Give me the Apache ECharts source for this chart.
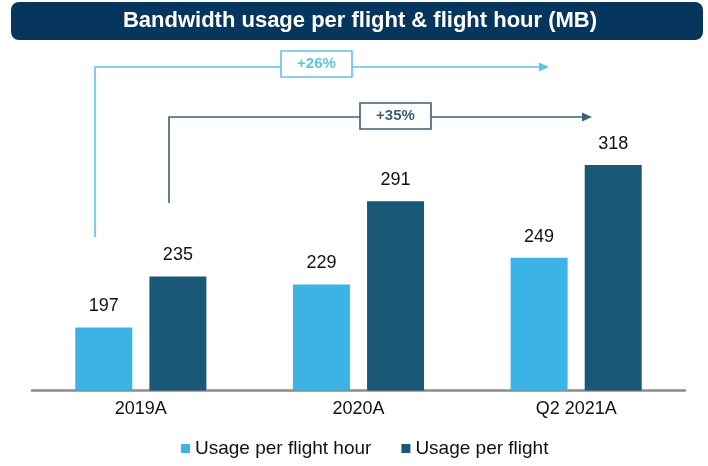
<!DOCTYPE html>
<html>
<head>
<meta charset="utf-8">
<script src="https://cdn.jsdelivr.net/npm/echarts@6/dist/echarts.min.js"></script>
<style>
  html, body { margin: 0; padding: 0; background: #ffffff; }
  #chart { width: 708px; height: 466px; }
</style>
</head>
<body>
<div id="chart"></div>
<script>
// Bandwidth usage per flight and per flight hour, in MB
const categories = ['2019A', '2020A', 'Q2 2021A'];
const perFlightHour = [197, 229, 249];
const perFlight = [235, 291, 318];
const seriesNames = ['Usage per flight hour', 'Usage per flight'];
const growthLabels = ['+26%', '+35%'];
const titleText = 'Bandwidth usage per flight & flight hour (MB)';

const LIGHT = '#3bb3e4';
const DARK = '#1b5878';
const LIGHT_LINE = '#5cc6e0';
const DARK_LINE = '#3e5f78';
const FONT = '"Liberation Sans", Arial, sans-serif';

const chart = echarts.init(document.getElementById('chart'));

// Bracketed growth arrow: vertical stem, horizontal run, a boxed label and an arrowhead
function growthArrow(x0, yStart, yRun, xEnd, box, text, color) {
  return [
    {
      type: 'polyline',
      shape: { points: [[x0, yStart], [x0, yRun], [xEnd - 8, yRun]] },
      style: { stroke: color, lineWidth: 1.6, fill: null },
      z: 10
    },
    {
      type: 'polygon',
      shape: { points: [[xEnd - 10, yRun - 4.5], [xEnd, yRun], [xEnd - 10, yRun + 4.5]] },
      style: { fill: color },
      z: 10
    },
    {
      type: 'rect',
      shape: { x: box[0], y: box[1], width: box[2], height: box[3] },
      style: { fill: '#ffffff', stroke: color, lineWidth: 1.6 },
      z: 11
    },
    {
      type: 'text',
      x: box[0] + box[2] / 2,
      y: box[1] + box[3] / 2,
      style: {
        text: text, fill: color, font: 'bold 15px ' + FONT,
        align: 'center', verticalAlign: 'middle'
      },
      z: 12
    }
  ];
}

const labelStyle = {
  show: true,
  position: 'top',
  distance: 12,
  color: '#111111',
  fontSize: 18,
  fontFamily: FONT
};

chart.setOption({
  animation: false,
  backgroundColor: '#ffffff',
  grid: { left: 32, right: 23, top: 55, bottom: 75.5, containLabel: false },
  legend: {
    data: seriesNames,
    bottom: 3,
    left: 176,
    icon: 'rect',
    itemWidth: 9,
    itemHeight: 9,
    itemGap: 30,
    textStyle: { fontSize: 19, color: '#111111', fontFamily: FONT }
  },
  xAxis: {
    type: 'category',
    data: categories,
    axisLine: { lineStyle: { color: '#8c8c8c', width: 2.5 } },
    axisTick: { show: false },
    axisLabel: { fontSize: 18, color: '#111111', fontFamily: FONT, margin: 10 }
  },
  yAxis: {
    type: 'value',
    min: 150,
    max: 400,
    show: false,
    splitLine: { show: false }
  },
  series: [
    {
      name: seriesNames[0],
      type: 'bar',
      data: perFlightHour,
      barWidth: 57,
      barGap: '30%',
      itemStyle: { color: LIGHT },
      label: labelStyle
    },
    {
      name: seriesNames[1],
      type: 'bar',
      data: perFlight,
      barWidth: 57,
      itemStyle: { color: DARK },
      label: labelStyle
    }
  ],
  graphic: [
    {
      type: 'rect',
      shape: { x: 11, y: 2, width: 692, height: 38, r: 8 },
      style: { fill: '#06365d' },
      z: 5
    },
    {
      type: 'text',
      x: 360,
      y: 21,
      style: {
        text: titleText, fill: '#ffffff', font: 'bold 22px ' + FONT,
        align: 'center', verticalAlign: 'middle'
      },
      z: 6
    },
    ...growthArrow(95, 237, 67, 549, [281, 51, 71, 26], growthLabels[0], LIGHT_LINE),
    ...growthArrow(169, 203, 117, 592, [360, 103, 71, 26], growthLabels[1], DARK_LINE)
  ]
});
</script>
</body>
</html>
